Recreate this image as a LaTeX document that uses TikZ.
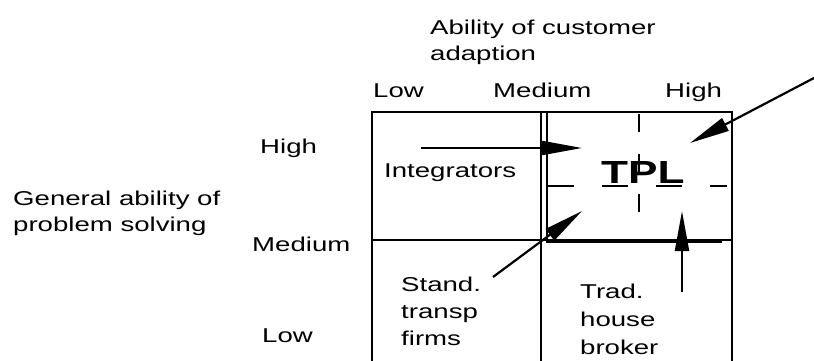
\documentclass[tikz,border=0pt]{standalone}
\usepackage{fontspec}
\setmainfont{Liberation Sans}[FakeStretch = 1.38]
\usepackage{tikz}
\usetikzlibrary{arrows.meta}
\usetikzlibrary{positioning}
\tikzset{>={Triangle[length = 40pt, width = 14pt]}}
\tikzset{lbl/.style = {draw = none, anchor = base west, inner sep = 0, align = left}}
\tikzstyle{grid} = [draw = black, line width = 2.8pt]
\tikzstyle{cross} = [draw = black, line width = 2.2pt]

\begin{document}
\begin{tikzpicture}[x = 1pt, y = -1pt, font = \fontsize{20}{25}\selectfont]
\useasboundingbox (0, 0) rectangle (814, 361);
% axis labels (base = last line)
\node [lbl] (adapt) at (430, 60) {Ability of customer\\adaption};
\node [lbl] (xlow) at (373, 98) {Low};
\node [lbl] (xmed) at (493, 98) {Medium};
\node [lbl] (xhigh) at (665, 98) {High};
\node [lbl, font = \fontsize{20}{26}\selectfont] (solve) at (13, 231) {General ability of\\problem solving};
\node [lbl] (yhigh) at (260, 153) {High};
\node [lbl] (ymed) at (252, 251) {Medium};
\node [lbl] (ylow) at (262, 342) {Low};
% the four cells
\draw [grid] (372, 361) -- (372, 112) -- (732, 112) -- (732, 361);
\draw [grid] (541, 112) -- (541, 361);
\draw [grid] (372, 240) -- (732, 240);
\draw [grid] (547, 112) -- (547, 242) -- (722, 242);
\draw [cross, dash pattern = on 18pt off 22pt] (639, 114) -- (639, 216);
\draw [cross, dash pattern = on 26pt off 28pt] (548, 186) -- (727, 186);
\node [lbl] (integr) at (384, 177) {Integrators};
\node [lbl, font = \fontsize{32}{36}\selectfont\bfseries] (tpl) at (601, 183) {TPL};
\node [lbl, font = \fontsize{20}{27}\selectfont] (stand) at (401, 345) {Stand.\\transp\\firms};
\node [lbl, font = \fontsize{20}{28}\selectfont] (trad) at (580, 354) {Trad.\\house\\broker};
% moves into the TPL cell
\coordinate (outside) at (814, 78);
\coordinate (fromint) at (421, 148);
\coordinate (fromstand) at (493, 277);
\coordinate (fromtrad) at (682, 292);
\coordinate (tipne) at (690, 143);
\coordinate (tipw) at (582, 148);
\coordinate (tipsw) at (582, 211);
\coordinate (tips) at (682, 211);
\draw [->, line width = 2.2pt] (outside) to (tipne);
\draw [->, line width = 2.2pt] (fromint) to (tipw);
\draw [->, line width = 2.2pt] (fromstand) to (tipsw);
\draw [->, line width = 2.2pt] (fromtrad) to (tips);
\end{tikzpicture}
\end{document}
